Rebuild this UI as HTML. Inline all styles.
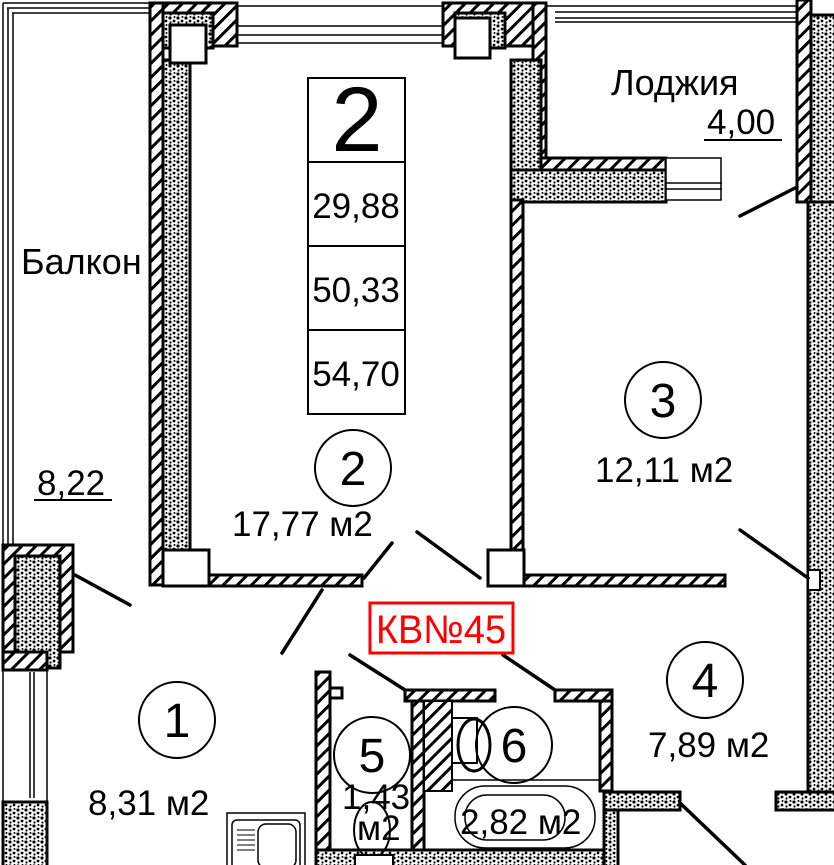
<!DOCTYPE html>
<html><head><meta charset="utf-8"><style>
html,body{margin:0;padding:0;background:#fff}
svg{display:block}
text{font-family:"Liberation Sans",sans-serif;fill:#000}
</style></head><body>
<svg width="834" height="865" viewBox="0 0 834 865" xmlns="http://www.w3.org/2000/svg">
<defs>
<pattern id="st" width="8" height="8" patternUnits="userSpaceOnUse">
<rect width="8" height="8" fill="#fff"/>
<circle cx="2" cy="2" r="1.6" fill="#000"/><circle cx="6" cy="5" r="1.4" fill="#000"/><circle cx="2.5" cy="6.5" r="1.1" fill="#000"/><circle cx="6.5" cy="1" r="1" fill="#000"/>
</pattern>
<pattern id="ht" width="10" height="10" patternUnits="userSpaceOnUse" patternTransform="rotate(45)">
<rect width="10" height="10" fill="#fff"/><rect x="0" y="0" width="3" height="10" fill="#000"/>
</pattern>
</defs>
<g stroke="#000" fill="none">
<path d="M3 3H152M7 8H152M12 13H152" stroke-width="1.5"/>
<path d="M3 3V545M8 8V545M13 13V545" stroke-width="1.5"/>
<path d="M237 6H443M237 26H443M237 35H443M237 43H443" stroke-width="1.5"/>
<path d="M545 6H797M555 12H797M555 18H797M555 22H797" stroke-width="1.5"/>
</g>
<rect x="150" y="3" width="87" height="43" fill="url(#ht)" stroke="#000" stroke-width="3"/>
<rect x="150" y="3" width="13" height="582" fill="url(#ht)" stroke="#000" stroke-width="3"/>
<rect x="163" y="13" width="50" height="35" fill="url(#st)" stroke="#000" stroke-width="3"/>
<rect x="163" y="60" width="27" height="490" fill="url(#st)" stroke="#000" stroke-width="3"/>
<rect x="170" y="25" width="36" height="38" fill="#fff" stroke="#000" stroke-width="3"/>
<rect x="163" y="550" width="46" height="36" fill="#fff" stroke="#000" stroke-width="3"/>
<rect x="209" y="575" width="153" height="11" fill="url(#ht)" stroke="#000" stroke-width="3"/>
<rect x="443" y="3" width="102" height="43" fill="url(#ht)" stroke="#000" stroke-width="3"/>
<rect x="455" y="13" width="50" height="35" fill="url(#st)" stroke="#000" stroke-width="3"/>
<rect x="455" y="18" width="35" height="40" fill="#fff" stroke="#000" stroke-width="3"/>
<rect x="533" y="3" width="13" height="160" fill="url(#ht)" stroke="#000" stroke-width="3"/>
<rect x="511" y="60" width="30" height="142" fill="url(#st)" stroke="#000" stroke-width="3"/>
<rect x="511" y="170" width="155" height="32" fill="url(#st)" stroke="#000" stroke-width="3"/>
<rect x="541" y="158" width="125" height="12" fill="url(#ht)" stroke="#000" stroke-width="3"/>
<rect x="511" y="200" width="12" height="385" fill="url(#ht)" stroke="#000" stroke-width="3"/>
<rect x="666" y="158" width="55" height="42" fill="#fff" stroke="#000" stroke-width="1.5"/>
<path d="M666 183H722M666 189H722" stroke="#000" stroke-width="1.5"/>
<rect x="488" y="550" width="36" height="36" fill="#fff" stroke="#000" stroke-width="3"/>
<rect x="524" y="575" width="201" height="11" fill="url(#ht)" stroke="#000" stroke-width="3"/>
<rect x="797" y="0" width="14" height="202" fill="url(#ht)" stroke="#000" stroke-width="3"/>
<rect x="811" y="15" width="25" height="187" fill="url(#st)" stroke="#000" stroke-width="3"/>
<rect x="808" y="202" width="28" height="606" fill="url(#st)" stroke="#000" stroke-width="3"/>
<rect x="776" y="792" width="60" height="18" fill="url(#st)" stroke="#000" stroke-width="3"/>
<rect x="808" y="570" width="12" height="20" fill="#fff" stroke="#000" stroke-width="2"/>
<rect x="3" y="545" width="70" height="107" fill="url(#ht)" stroke="#000" stroke-width="3"/>
<rect x="15" y="556" width="45" height="112" fill="url(#st)" stroke="#000" stroke-width="3"/>
<rect x="3" y="652" width="44" height="18" fill="url(#ht)" stroke="#000" stroke-width="3"/>
<path d="M3 670V802M47 670V802M30 672V798M34 672V798" stroke="#000" stroke-width="1.5"/>
<rect x="3" y="802" width="44" height="70" fill="url(#st)" stroke="#000" stroke-width="3"/>
<rect x="227" y="813" width="78" height="60" fill="#fff" stroke="#000" stroke-width="1.5"/>
<rect x="232" y="820" width="68" height="50" rx="5" fill="none" stroke="#000" stroke-width="1.5"/>
<rect x="258" y="824" width="38" height="44" rx="8" fill="none" stroke="#000" stroke-width="1.5"/>
<path d="M237 830H255M237 835H255M237 840H255M237 845H255M237 850H255" stroke="#000"/>
<rect x="316" y="672" width="14" height="195" fill="url(#ht)" stroke="#000" stroke-width="3"/>
<rect x="330" y="688" width="12" height="10" fill="#fff" stroke="#000" stroke-width="3"/>
<rect x="405" y="690" width="90" height="11" fill="url(#ht)" stroke="#000" stroke-width="3"/>
<rect x="412" y="701" width="12" height="166" fill="url(#ht)" stroke="#000" stroke-width="3"/>
<rect x="424" y="701" width="28" height="90" fill="url(#ht)" stroke="#000" stroke-width="2"/>
<rect x="452" y="718" width="25" height="45" fill="#fff" stroke="#000" stroke-width="2"/>
<rect x="555" y="690" width="57" height="11" fill="url(#ht)" stroke="#000" stroke-width="3"/>
<rect x="600" y="701" width="12" height="90" fill="url(#ht)" stroke="#000" stroke-width="3"/>
<rect x="316" y="850" width="300" height="17" fill="url(#st)" stroke="#000" stroke-width="3"/>
<rect x="604" y="792" width="14" height="75" fill="url(#st)" stroke="#000" stroke-width="3"/>
<rect x="604" y="792" width="76" height="18" fill="url(#st)" stroke="#000" stroke-width="3"/>
<path d="M452 780H600" stroke="#000" stroke-width="1.5"/>
<rect x="455" y="786" width="140" height="62" rx="30" fill="none" stroke="#000" stroke-width="1.5"/>
<rect x="465" y="795" width="100" height="45" rx="22" fill="none" stroke="#000" stroke-width="1.5"/>
<ellipse cx="474" cy="745" rx="16" ry="26" fill="none" stroke="#000" stroke-width="3"/>
<ellipse cx="372" cy="830" rx="18" ry="28" fill="none" stroke="#000" stroke-width="2"/>
<rect x="355" y="855" width="38" height="12" fill="#fff" stroke="#000" stroke-width="2"/>
<g stroke="#000" stroke-width="3.5" stroke-linecap="round">
<line x1="75" y1="575" x2="130" y2="605"/>
<line x1="282" y1="653" x2="322" y2="590"/>
<line x1="364" y1="578" x2="392" y2="543"/>
<line x1="417" y1="532" x2="480" y2="578"/>
<line x1="740" y1="530" x2="808" y2="578"/>
<line x1="740" y1="216" x2="797" y2="187"/>
<line x1="350" y1="655" x2="405" y2="690"/>
<line x1="503" y1="655" x2="555" y2="690"/>
<line x1="680" y1="803" x2="745" y2="865"/>
</g>
<g fill="#fff" stroke="#000" stroke-width="2">
<rect x="308" y="78" width="97" height="84"/><rect x="308" y="162" width="97" height="84"/>
<rect x="308" y="246" width="97" height="84"/><rect x="308" y="330" width="97" height="84"/>
</g>
<text x="357" y="151" font-size="92" text-anchor="middle">2</text>
<text x="356" y="218" font-size="35" text-anchor="middle">29,88</text>
<text x="356" y="302" font-size="35" text-anchor="middle">50,33</text>
<text x="356" y="386" font-size="35" text-anchor="middle">54,70</text>
<text x="611" y="95" font-size="36">Лоджия</text>
<text x="707" y="134" font-size="35">4,00</text>
<line x1="704" y1="140" x2="782" y2="140" stroke="#000" stroke-width="2"/>
<text x="21" y="274" font-size="36">Балкон</text>
<text x="37" y="495" font-size="35">8,22</text>
<line x1="34" y1="500" x2="112" y2="500" stroke="#000" stroke-width="2"/>
<g fill="none" stroke="#000" stroke-width="2">
<circle cx="353" cy="468" r="38"/><circle cx="663" cy="400" r="38"/><circle cx="705" cy="680" r="38"/>
<circle cx="177" cy="720" r="38"/><circle cx="372" cy="755" r="38"/><circle cx="514" cy="745" r="38"/>
</g>
<g font-size="48" text-anchor="middle">
<text x="353" y="485">2</text><text x="663" y="417">3</text><text x="705" y="697">4</text>
<text x="177" y="737">1</text><text x="372" y="772">5</text><text x="514" y="762">6</text>
</g>
<text x="232" y="536" font-size="35">17,77 м2</text>
<text x="595" y="482" font-size="35">12,11 м2</text>
<text x="648" y="757" font-size="35">7,89 м2</text>
<text x="88" y="815" font-size="35">8,31 м2</text>
<text x="342" y="809" font-size="35">1,43</text>
<text x="357" y="840" font-size="35">м2</text>
<text x="460" y="834" font-size="35">2,82 м2</text>
<rect x="370" y="603" width="143" height="50" fill="#fff" stroke="#f00" stroke-width="3"/>
<text x="441" y="643" font-size="40" text-anchor="middle" textLength="130" lengthAdjust="spacingAndGlyphs" style="fill:#f00">КВ№45</text>
</svg>
</body></html>
